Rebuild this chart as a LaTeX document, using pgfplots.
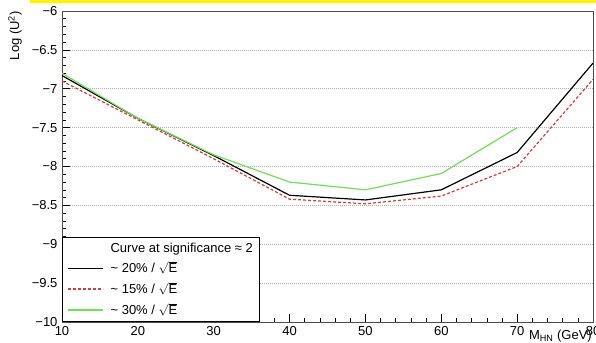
\documentclass[border=0pt]{standalone}
\usepackage{fontspec}
\setmainfont{Liberation Sans}
\usepackage{pgfplots}
\pgfplotsset{compat=1.18}
\definecolor{rootred}{RGB}{210,60,60}
\definecolor{rootgreen}{RGB}{110,225,80}
\begin{document}
\fontsize{13bp}{15bp}\selectfont
\begin{tikzpicture}[x=1bp,y=1bp]
\useasboundingbox (-62,-20) rectangle (534,322);
\fill[yellow] (-32,319) rectangle (534,322);
\begin{axis}[
  at={(0,0)}, anchor=south west,
  scale only axis, width=531bp, height=311bp,
  xmin=10, xmax=80, ymin=-10, ymax=-6,
  xtick={10,20,...,80}, minor x tick num=4,
  ytick={-10,-9.5,-9,-8.5,-8,-7.5,-7,-6.5,-6}, minor y tick num=4,
  yticklabels={−10,−9.5,−9,−8.5,−8,−7.5,−7,−6.5,−6},
  xtick pos=bottom, ytick pos=left,
  tick align=inside,
  major tick length=8bp, minor tick length=4bp,
  tick style={black, line width=0.6bp},
  axis line style={draw=black!70, line width=0.8bp},
  ymajorgrids,
  grid style={gray!60, dash pattern=on 1bp off 1bp, line width=0.6bp},
  tick label style={font=\fontsize{13bp}{15bp}\selectfont},
  /pgf/number format/assume math mode=true,
  xlabel={M\textsubscript{HN} (GeV)},
  xlabel style={at={(rel axis cs:1,0)}, anchor=north east, xshift=-1bp, yshift=-8bp, inner sep=0pt, font=\fontsize{13bp}{15bp}\selectfont},
  ylabel={Log (U\textsuperscript{2})},
  ylabel style={at={(rel axis cs:-0.0885,1)}, anchor=east, inner sep=0pt, font=\fontsize{13bp}{15bp}\selectfont},
  legend style={at={(rel axis cs:0,0)}, anchor=south west, draw=black, fill=white, line width=0.8bp,
    font=\fontsize{13bp}{15bp}\selectfont, inner xsep=5bp, inner ysep=3bp, row sep=3.5bp,
    nodes={inner sep=2bp},
    /tikz/every odd column/.append style={column sep=5bp}},
  legend cell align=left,
  legend image code/.code={\draw[#1] (0bp,0bp) -- (35bp,0bp);},
]
\addlegendimage{empty legend}
\addlegendentry{Curve at significance ≈ 2}
\addplot[black, line width=1.2bp] coordinates {
(10,-6.83) (20,-7.38) (30,-7.86) (40,-8.37) (50,-8.43) (60,-8.30) (70,-7.82) (80,-6.67)};
\addlegendentry{\textasciitilde{} 20\% / $\sqrt{\mbox{E}}$}
\addplot[rootred, line width=1.2bp, dash pattern=on 3bp off 2bp] coordinates {
(10,-6.90) (20,-7.40) (30,-7.90) (40,-8.42) (50,-8.48) (60,-8.38) (70,-8.00) (80,-6.88)};
\addlegendentry{\textasciitilde{} 15\% / $\sqrt{\mbox{E}}$}
\addplot[rootgreen, line width=1.2bp] coordinates {
(10,-6.80) (20,-7.38) (30,-7.85) (40,-8.20) (50,-8.30) (60,-8.09) (70,-7.50)};
\addlegendentry{\textasciitilde{} 30\% / $\sqrt{\mbox{E}}$}
\end{axis}
\end{tikzpicture}
\end{document}
